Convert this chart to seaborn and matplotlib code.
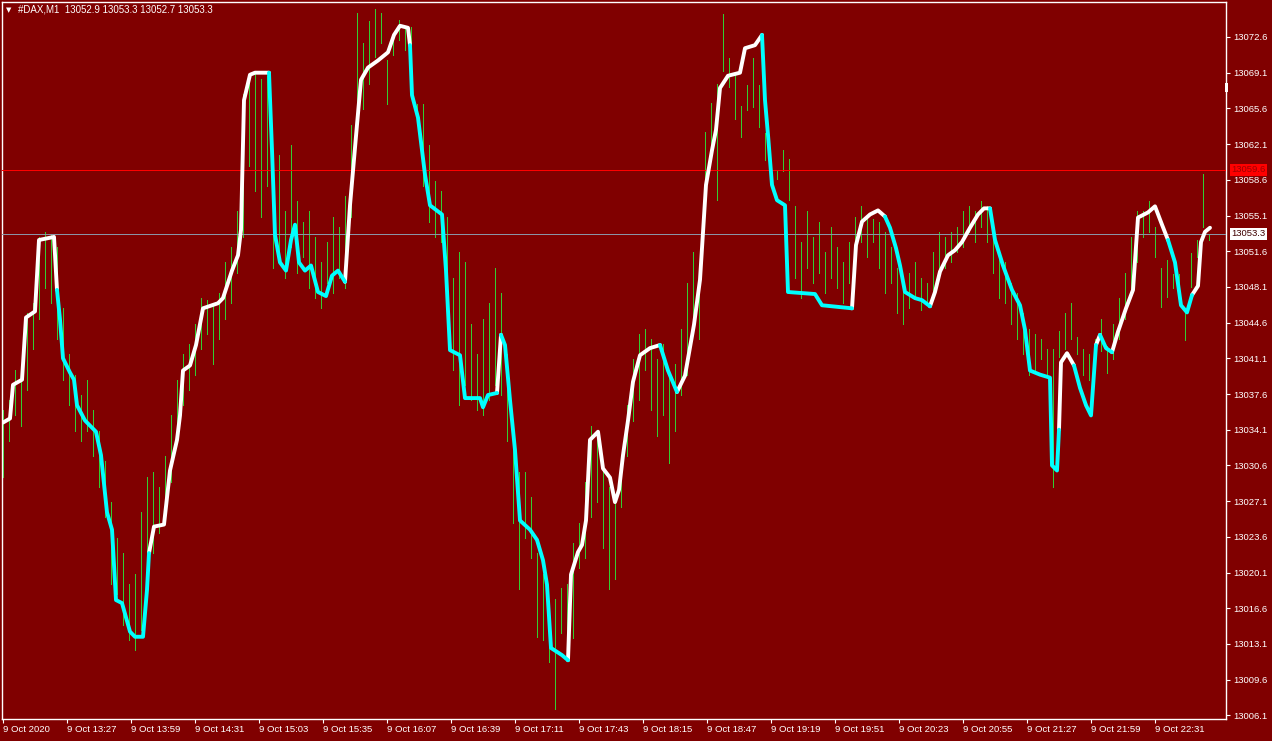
import numpy as np
import pandas as pd
import matplotlib
matplotlib.use("Agg")
import matplotlib.pyplot as plt
from matplotlib.patches import Rectangle
import seaborn as sns

# ---------------- data ----------------
symbol_text = "#DAX,M1  13052.9 13053.3 13052.7 13053.3"
start_time = "12:55"
bar_step_min = 3

bar_low = [13029.5, 13033.0, 13035.5, 13034.5, 13038.0, 13042.0, 13045.0, 13048.0, 13046.5, 13043.0,
           13039.0, 13036.5, 13034.0, 13033.0, 13034.0, 13031.5, 13028.5, 13025.5, 13019.0, 13018.0,
           13015.0, 13013.5, 13012.5, 13014.5, 13018.0, 13022.0, 13024.0, 13026.5, 13029.0, 13033.0,
           13036.5, 13038.0, 13039.5, 13042.0, 13043.5, 13040.5, 13043.0, 13045.0, 13046.5, 13049.5,
           13053.0, 13060.0, 13057.5, 13055.0, 13058.0, 13050.0, 13051.0, 13049.0, 13052.0, 13049.5,
           13051.0, 13048.0, 13047.0, 13046.0, 13048.5, 13047.5, 13049.0, 13048.0, 13055.0, 13064.5,
           13065.5, 13068.0, 13070.6, 13072.0, 13066.0, 13070.8, 13072.3, 13071.3, 13068.5, 13064.5,
           13058.0, 13054.5, 13053.0, 13052.5, 13046.0, 13040.0, 13036.5, 13038.5, 13037.0, 13036.0,
           13035.5, 13037.0, 13038.5, 13037.5, 13033.0, 13025.0, 13018.5, 13023.5, 13021.5, 13013.8,
           13013.5, 13011.3, 13006.7, 13014.2, 13014.0, 13013.7, 13020.5, 13021.5, 13025.5, 13027.0,
           13022.5, 13018.5, 13019.5, 13026.5, 13031.5, 13035.0, 13037.0, 13040.0, 13036.0, 13033.5,
           13035.5, 13030.8, 13034.0, 13037.5, 13039.5, 13043.5, 13043.0, 13056.6, 13060.8, 13056.6,
           13069.3, 13067.7, 13064.6, 13062.8, 13065.4, 13065.7, 13063.8, 13060.5, 13057.9, 13058.7,
           13059.5, 13056.6, 13049.0, 13047.0, 13050.0, 13048.5, 13049.5, 13047.5, 13049.0, 13048.0,
           13046.5, 13048.5, 13050.5, 13052.5, 13051.0, 13052.5, 13050.0, 13047.5, 13048.5, 13045.5,
           13044.5, 13046.0, 13047.0, 13045.8, 13046.5, 13047.5, 13049.0, 13050.0, 13050.5, 13051.5,
           13052.0, 13053.5, 13052.5, 13054.0, 13052.5, 13049.5, 13047.0, 13046.5, 13044.5, 13043.0,
           13041.5, 13039.5, 13040.0, 13041.0, 13039.5, 13028.5, 13041.2, 13042.0, 13043.0, 13041.5,
           13039.5, 13039.0, 13040.2, 13041.8, 13039.7, 13041.0, 13043.0, 13045.0, 13047.5, 13050.5,
           13053.0, 13053.5, 13051.0, 13046.1, 13047.1, 13048.0, 13046.8, 13042.9, 13048.1, 13051.0,
           13054.0, 13052.7]
bar_high = [13036.0, 13037.0, 13040.0, 13039.5, 13045.5, 13046.5, 13053.0, 13053.5, 13053.2, 13052.0,
            13046.0, 13041.5, 13039.5, 13037.5, 13039.0, 13036.0, 13034.0, 13031.0, 13027.0, 13023.5,
            13022.0, 13019.0, 13020.0, 13026.0, 13029.5, 13030.0, 13028.5, 13031.5, 13035.5, 13039.0,
            13041.5, 13042.5, 13044.5, 13047.0, 13046.8, 13046.5, 13047.5, 13050.5, 13052.0, 13055.5,
            13067.0, 13069.0, 13069.2, 13068.5, 13068.8, 13060.5, 13061.0, 13055.5, 13062.0, 13056.5,
            13054.5, 13055.5, 13053.0, 13050.5, 13052.5, 13055.0, 13054.0, 13057.0, 13064.0, 13075.0,
            13072.0, 13074.2, 13075.3, 13075.0, 13070.3, 13073.0, 13074.3, 13073.5, 13073.6, 13066.0,
            13066.0, 13062.0, 13058.5, 13057.5, 13055.0, 13049.0, 13051.5, 13050.5, 13044.5, 13041.5,
            13045.0, 13046.5, 13050.0, 13047.5, 13041.5, 13035.0, 13030.0, 13030.0, 13027.5, 13022.0,
            13020.0, 13017.0, 13017.5, 13018.6, 13019.0, 13023.0, 13025.0, 13029.0, 13034.5, 13033.5,
            13031.0, 13028.5, 13027.5, 13031.5, 13036.5, 13041.0, 13043.5, 13044.0, 13043.0, 13041.0,
            13042.5, 13039.5, 13040.5, 13044.0, 13048.5, 13051.5, 13049.5, 13063.3, 13066.1, 13068.0,
            13074.9, 13070.5, 13069.1, 13065.8, 13067.9, 13070.5, 13067.9, 13063.2, 13059.0, 13059.5,
            13061.5, 13060.6, 13056.0, 13052.5, 13055.5, 13053.0, 13054.5, 13051.5, 13054.0, 13052.0,
            13050.5, 13052.5, 13055.0, 13056.0, 13055.0, 13054.8, 13054.5, 13053.5, 13052.0, 13050.0,
            13048.5, 13049.5, 13050.5, 13049.0, 13048.5, 13051.5, 13053.5, 13053.0, 13053.5, 13054.0,
            13055.5, 13056.0, 13055.5, 13056.5, 13056.0, 13054.0, 13051.5, 13050.5, 13048.5, 13047.5,
            13045.5, 13044.0, 13043.5, 13043.0, 13042.0, 13042.0, 13043.8, 13045.5, 13046.5, 13043.2,
            13042.0, 13041.5, 13043.0, 13045.0, 13042.3, 13044.5, 13047.0, 13049.5, 13053.0, 13055.5,
            13055.5, 13056.5, 13054.0, 13050.0, 13050.7, 13049.4, 13049.4, 13045.5, 13051.4, 13052.7,
            13059.2, 13053.3]

# indicator line: minute since start and value
line_min = [0, 3.5, 5, 9.5, 11.5, 16, 18, 25.5, 27, 28.5, 30, 33.5, 35.5, 37, 41, 46.5, 49, 52, 54.5,
            56.5, 59.5, 63.5, 66, 70, 72, 73, 75.5, 80.5, 83.5, 87, 88.5, 90, 93.5, 96.5, 100, 107.5,
            110, 114.5, 117.5, 119, 120.5, 123.5, 126, 133, 134.5, 136, 138.5, 141.5, 144, 146, 148,
            151, 154, 157.5, 161.5, 164.5, 167.5, 171, 173.5, 177, 179, 182.5, 187.5, 192.5, 195.5,
            198.5, 202.5, 203.5, 204.5, 207.5, 211, 213.5, 219.5, 221.5, 223.5, 228.5, 231, 238.5,
            240, 242.5, 247, 249, 251, 253.5, 256, 258.5, 263.5, 267, 270, 272, 274, 279.5, 282.5,
            284, 287.5, 289.5, 291.5, 293.5, 297.5, 300, 303.5, 306, 308, 310, 312.5, 315, 318.5,
            323.5, 328.5, 332.5, 337, 341, 345.5, 348.5, 351.5, 354.5, 356.5, 358.5, 362.5, 368.5,
            371, 376, 379.5, 381, 382.5, 384.5, 387, 391, 392.5, 406, 409.5, 424.5, 426.5, 429.5,
            433.5, 437.5, 441, 443.5, 446.5, 448.5, 451, 456, 459.5, 463.5, 466, 468.5, 472.5, 476,
            479.5, 483.5, 487.5, 490.5, 493.5, 496, 500, 504.5, 508.5, 511, 513.5, 518.5, 523.5,
            524.5, 527, 528, 529, 532, 535.5, 538.5, 541.5, 544, 546.5, 548.5, 551.5, 554.5, 557.5,
            561.5, 565, 567.5, 572.5, 576, 579.5, 582.5, 586, 589, 592, 594.5, 597.5, 599, 601, 603.5]
line_val = [13034.8, 13035.2, 13038.5, 13039.0, 13045.1, 13045.7, 13052.7, 13053.0, 13047.8, 13044.9,
            13041.1, 13039.7, 13039.0, 13036.5, 13035.0, 13033.9, 13031.6, 13026.0, 13024.3, 13017.4,
            13017.1, 13014.3, 13013.8, 13013.8, 13018.4, 13022.0, 13024.6, 13024.8, 13030.1, 13033.1,
            13035.5, 13039.9, 13040.4, 13042.4, 13046.0, 13046.5, 13047.0, 13049.7, 13051.2, 13053.7,
            13066.4, 13068.9, 13069.1, 13069.1, 13061.5, 13053.2, 13050.5, 13049.7, 13052.7, 13054.2,
            13050.5, 13049.7, 13050.2, 13047.6, 13047.2, 13049.2, 13049.7, 13048.6, 13056.1, 13064.0,
            13068.4, 13069.6, 13070.3, 13071.1, 13072.8, 13073.7, 13073.5, 13071.8, 13066.9, 13064.7,
            13059.1, 13056.1, 13055.2, 13049.7, 13041.9, 13041.4, 13037.2, 13037.2, 13036.3, 13037.5,
            13037.7, 13043.4, 13042.4, 13037.0, 13032.1, 13025.2, 13024.3, 13023.3, 13021.3, 13018.9,
            13012.7, 13012.0, 13011.5, 13019.9, 13022.1, 13022.8, 13025.2, 13033.1, 13033.9, 13030.3,
            13029.4, 13027.0, 13028.2, 13031.6, 13035.0, 13038.8, 13041.4, 13042.1, 13042.4, 13039.9,
            13037.8, 13039.4, 13044.4, 13048.8, 13058.1, 13061.5, 13063.5, 13067.6, 13068.8, 13069.1,
            13071.5, 13071.8, 13072.8, 13066.4, 13063.0, 13058.1, 13056.6, 13056.1, 13047.6, 13047.4,
            13046.3, 13046.0, 13052.2, 13054.5, 13055.2, 13055.6, 13055.0, 13053.9, 13051.9, 13050.2,
            13047.6, 13047.0, 13046.8, 13046.2, 13047.6, 13049.6, 13051.2, 13051.7, 13052.5, 13053.9,
            13055.2, 13055.8, 13055.8, 13052.7, 13050.2, 13047.8, 13046.3, 13043.9, 13039.9, 13039.5,
            13039.2, 13030.6, 13030.1, 13034.1, 13040.7, 13041.6, 13040.4, 13038.2, 13036.5, 13035.5,
            13042.4, 13043.4, 13042.1, 13041.7, 13043.7, 13046.0, 13047.8, 13054.9, 13055.4, 13056.0,
            13054.2, 13052.7, 13050.5, 13046.3, 13045.6, 13047.3, 13048.2, 13052.5, 13053.5, 13053.9]
# time spans (minutes, inclusive) in which the indicator is in its falling (cyan) state
down_start = [28.5, 134.5, 204.5, 251, 332.5, 381, 443.5, 496, 538.5, 551.5, 586]
down_end = [73, 171, 247, 282.5, 337, 424.5, 463.5, 528, 546.5, 554.5, 594.5]

ask_price = 13059.6
bid_price = 13053.3

y_ticks = [13006.1, 13009.6, 13013.1, 13016.6, 13020.1, 13023.6, 13027.1, 13030.6, 13034.1, 13037.6,
           13041.1, 13044.6, 13048.1, 13051.6, 13055.1, 13058.6, 13062.1, 13065.6, 13069.1, 13072.6]
x_tick_times = ["12:55", "13:27", "13:59", "14:31", "15:03", "15:35", "16:07", "16:39", "17:11",
                "17:43", "18:15", "18:47", "19:19", "19:51", "20:23", "20:55", "21:27", "21:59", "22:31"]
x_tick_labels = ["9 Oct 2020", "9 Oct 13:27", "9 Oct 13:59", "9 Oct 14:31", "9 Oct 15:03",
                 "9 Oct 15:35", "9 Oct 16:07", "9 Oct 16:39", "9 Oct 17:11", "9 Oct 17:43",
                 "9 Oct 18:15", "9 Oct 18:47", "9 Oct 19:19", "9 Oct 19:51", "9 Oct 20:23",
                 "9 Oct 20:55", "9 Oct 21:27", "9 Oct 21:59", "9 Oct 22:31"]

# ---------------- styling ----------------
BG = "#800000"
FG = "#FFFFFF"
BAR_C = "#32CD32"
UP_C = "#FFFFFF"
DN_C = "#00FFFF"

sns.set_theme(style="dark")
plt.rcParams["font.family"] = ["Liberation Sans", "DejaVu Sans"]
plt.rcParams["axes.facecolor"] = BG
plt.rcParams["figure.facecolor"] = BG

W, H = 1272, 741
fig = plt.figure(figsize=(W / 100, H / 100), dpi=100)
L, R, T, B = 2, 1226, 2, 719
ax = fig.add_axes([L / W, (H - B) / H, (R - L) / W, (B - T) / H])
ax.set_facecolor(BG)


def to_min(t):
    h, m = t.split(":")
    h0, m0 = start_time.split(":")
    return (int(h) * 60 + int(m)) - (int(h0) * 60 + int(m0))


# bars (1 px, crisp)
bar_min = np.arange(len(bar_low)) * bar_step_min
ax.vlines(bar_min, bar_low, bar_high, colors=BAR_C, linewidth=0.5, zorder=2,
          antialiased=False)

# ask / bid lines
ax.axhline(ask_price, color="#FF0000", linewidth=0.5, zorder=3, antialiased=False)
ax.axhline(bid_price, color="#8A94A6", linewidth=0.5, zorder=3, antialiased=False)

# indicator line: trend state per point, split into colour runs
def state(m):
    for s0, s1 in zip(down_start, down_end):
        if s0 <= m <= s1:
            return "d"
    return "u"


rows = []
run = -1
prev = None
for i in range(1, len(line_min)):
    st = state(line_min[i])
    if st != prev:
        run += 1
        rows.append((run, st, line_min[i - 1], line_val[i - 1]))
        prev = st
    rows.append((run, st, line_min[i], line_val[i]))
df = pd.DataFrame(rows, columns=["run", "trend", "minute", "price"])
sns.lineplot(data=df, x="minute", y="price", hue="trend", units="run", estimator=None,
             sort=False, palette={"u": UP_C, "d": DN_C}, legend=False, linewidth=2.8,
             ax=ax, zorder=4)

# limits: pixel -> data
px_per_min = 2.0
ax.set_xlim((L - 3) / px_per_min, (R - 3) / px_per_min)
px_per_pt = 35.7 / 3.5
ax.set_ylim(13072.6 - (B - 37) / px_per_pt, 13072.6 + (37 - T) / px_per_pt)

# axes / ticks
for s in ax.spines.values():
    s.set_color(FG)
    s.set_linewidth(1.0)
    s.set_visible(True)
ax.grid(False)
ax.yaxis.tick_right()
ax.set_yticks(y_ticks)
ax.set_yticklabels([f"{v:.1f}" for v in y_ticks])
ax.set_xticks([to_min(t) for t in x_tick_times])
ax.set_xticklabels(x_tick_labels)
ax.tick_params(axis="y", which="both", right=True, left=False, direction="out", length=3,
               width=0.8, color=FG, labelcolor=FG, labelsize=6.8, pad=2)
ax.tick_params(axis="x", which="both", bottom=True, direction="out", length=3,
               width=0.8, color=FG, labelcolor=FG, labelsize=6.8, pad=1.5)
for lab in ax.get_xticklabels():
    lab.set_horizontalalignment("left")
ax.set_xlabel("")
ax.set_ylabel("")

# price labels on the right axis
ax.annotate(f"{ask_price:.1f}", xy=(1.0, ask_price), xycoords=("axes fraction", "data"),
            xytext=(4, 0), textcoords="offset points", va="center", ha="left",
            fontsize=6.8, color="#A00000", annotation_clip=False,
            bbox=dict(boxstyle="square,pad=0.15", fc="#FF0000", ec="none"))
ax.annotate(f"{bid_price:.1f}", xy=(1.0, bid_price), xycoords=("axes fraction", "data"),
            xytext=(4, 0), textcoords="offset points", va="center", ha="left",
            fontsize=6.8, color="#400000", annotation_clip=False,
            bbox=dict(boxstyle="square,pad=0.15", fc="#FFFFFF", ec="none"))

# small marker on the price axis
fig.add_artist(Rectangle((1224.5 / W, (H - 92) / H), 3.5 / W, 9 / H,
                         transform=fig.transFigure, color=FG, lw=0))

# header
fig.text(6 / W, 1 - 10 / H, "▼", color=FG, fontsize=5, va="center", ha="left",
         family=["DejaVu Sans"])
fig.text(18 / W, 1 - 10 / H, symbol_text, color=FG, fontsize=7.0, va="center", ha="left")

fig.savefig("out.png", dpi=100, facecolor=BG)
